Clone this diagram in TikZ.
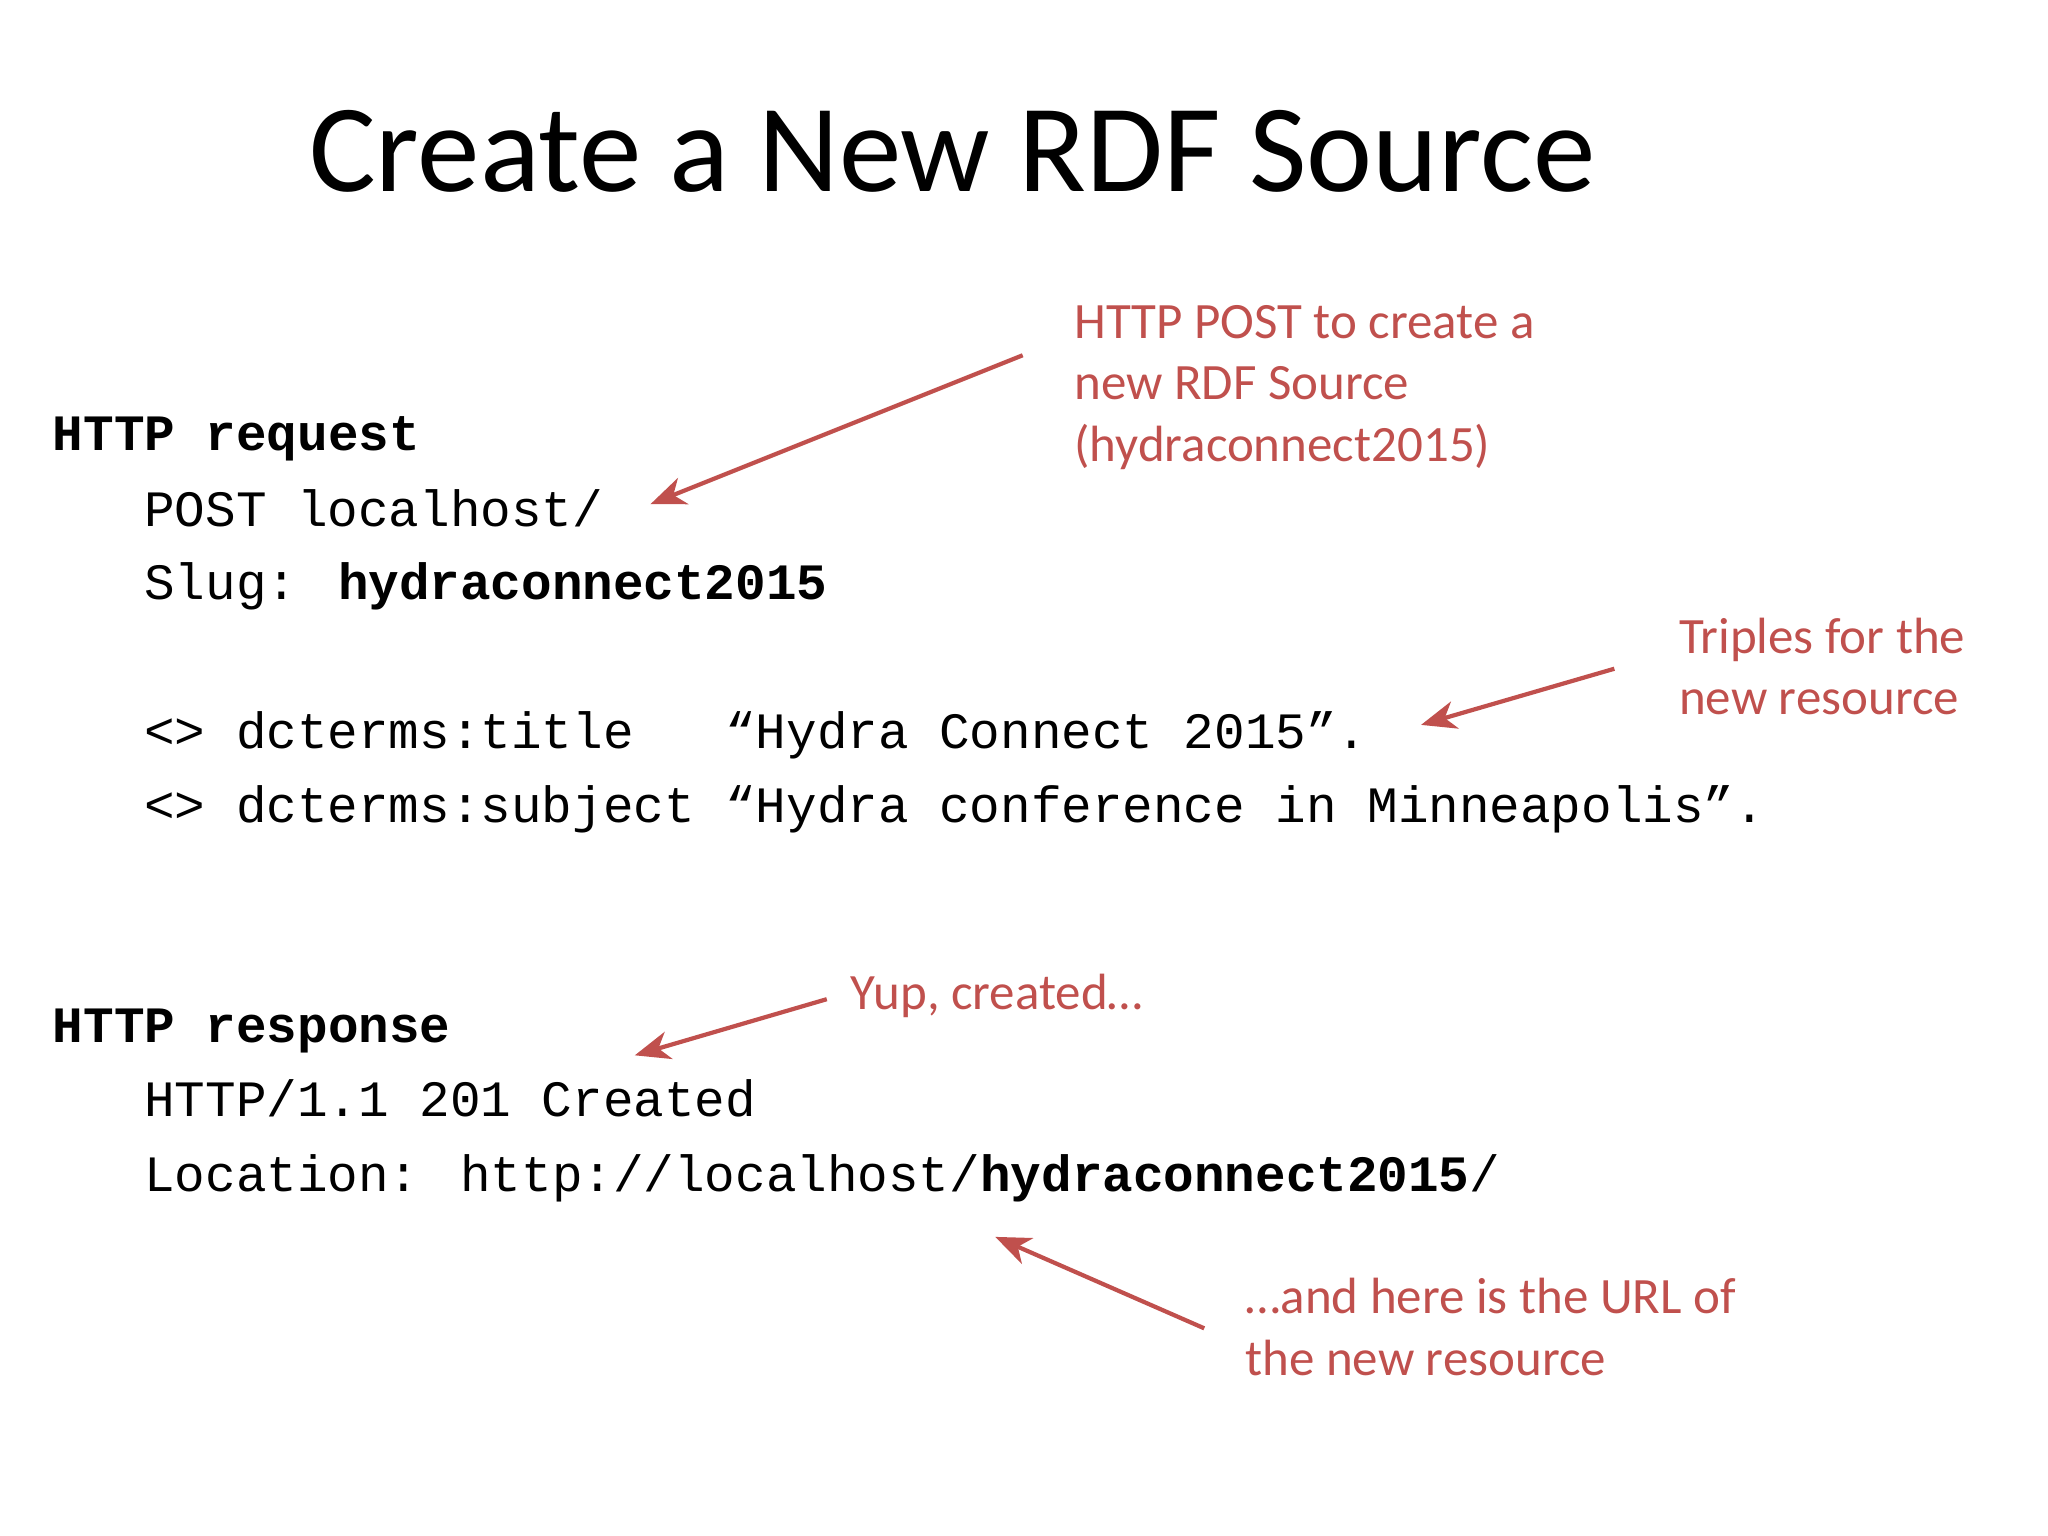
\documentclass[tikz,border=0pt]{standalone}
\usepackage{fontspec}
\setmainfont{Carlito}
\newfontfamily\monof{Liberation Mono}
\usetikzlibrary{arrows.meta}
\definecolor{accred}{RGB}{192,80,77}
\tikzset{
  mono/.style={anchor=base west,inner sep=0pt,font=\monof\fontsize{14.5pt}{17pt}\selectfont},
  note/.style={anchor=base west,inner sep=0pt,text=accred,font=\fontsize{14.5pt}{17pt}\selectfont},
  arr/.style={draw=accred,line width=1.2pt,-{Stealth[length=10pt,width=8pt,inset=3pt]}}
}
\begin{document}
\begin{tikzpicture}[x=0.013061cm,y=-0.013061cm]
\useasboundingbox (0,0) rectangle (1568,1176);
\node[anchor=base,inner sep=0pt,font=\fontsize{35.6pt}{42pt}\selectfont] (title) at (729,147) {Create a New RDF Source};
\node[mono] (req) at (40,345) {\textbf{HTTP request}};
\node[mono] (post) at (110,403) {POST localhost/};
\node[mono] (slug) at (110,459) {Slug: \textbf{hydraconnect2015}};
\node[mono] (t1) at (110,573) {<> dcterms:title\ \ \ “Hydra Connect 2015”.};
\node[mono] (t2) at (110,630) {<> dcterms:subject “Hydra conference in Minneapolis”.};
\node[mono] (resp) at (40,798) {\textbf{HTTP response}};
\node[mono] (st) at (110,855) {HTTP/1.1 201 Created};
\node[mono] (loc) at (110,912) {Location: http://localhost/\textbf{hydraconnect2015}/};
\node[note] (n1a) at (822,259) {HTTP POST to create a};
\node[note] (n1b) at (822,306) {new RDF Source};
\node[note] (n1c) at (822,353) {(hydraconnect2015)};
\node[note] (n2a) at (1285,500) {Triples for the};
\node[note] (n2b) at (1285,547) {new resource};
\node[note] (n3) at (651,773) {Yup, created…};
\node[note] (n4a) at (953,1006) {…and here is the URL of};
\node[note] (n4b) at (953,1053) {the new resource};
\coordinate (a1s) at (783,272); \coordinate (a1e) at (498,386);
\coordinate (a2s) at (1236,512); \coordinate (a2e) at (1088,555);
\coordinate (a3s) at (633,765); \coordinate (a3e) at (486,808);
\coordinate (a4s) at (922,1017); \coordinate (a4e) at (762,947);
\draw[arr] (a1s) -- (a1e);
\draw[arr] (a2s) -- (a2e);
\draw[arr] (a3s) -- (a3e);
\draw[arr] (a4s) -- (a4e);
\end{tikzpicture}
\end{document}
